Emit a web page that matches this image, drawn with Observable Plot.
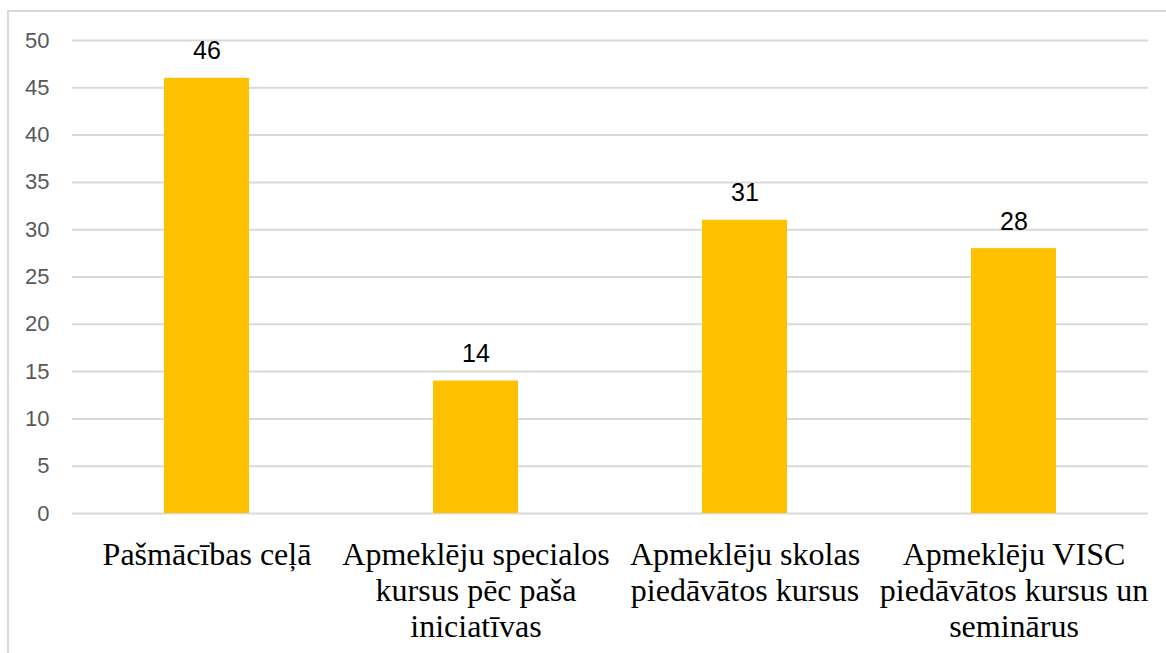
<!DOCTYPE html>
<html>
<head>
<meta charset="utf-8">
<script src="https://cdn.jsdelivr.net/npm/d3@7"></script>
<script src="https://cdn.jsdelivr.net/npm/@observablehq/plot@0.6"></script>
<style>
  html, body { margin: 0; padding: 0; background: #fff; overflow: hidden; width: 1166px; height: 653px; }
  #wrap { position: relative; width: 1166px; height: 653px; }
  #border { position: absolute; left: 7px; top: 10px; width: 2000px; height: 2000px; border: 2px solid #d9d9d9; box-sizing: border-box; }
  #chart { position: absolute; left: 0; top: 0; }
</style>
</head>
<body>
<div id="wrap"><div id="border"></div><div id="chart"></div></div>
<script>
const categories = [
  "Pašmācības ceļā",
  "Apmeklēju specialos\nkursus pēc paša\niniciatīvas",
  "Apmeklēju skolas\npiedāvātos kursus",
  "Apmeklēju VISC\npiedāvātos kursus un\nseminārus"
];
const values = [46, 14, 31, 28];
const yTicks = [0, 5, 10, 15, 20, 25, 30, 35, 40, 45, 50];

const data = categories.map((c, i) => ({category: c, value: values[i]}));

const chart = Plot.plot({
  width: 1166,
  height: 653,
  marginLeft: 72,
  marginRight: 18,
  marginTop: 40,
  marginBottom: 140,
  style: {background: "transparent", overflow: "visible"},
  x: {domain: categories, paddingInner: 0.684, paddingOuter: 0.342, axis: null},
  y: {domain: [0, 50], axis: null},
  marks: [
    Plot.ruleY(yTicks, {stroke: "#d9d9d9", strokeWidth: 2}),
    Plot.barY(data, {x: "category", y: "value", fill: "#FFC000"}),
    Plot.axisY(yTicks, {label: null, tickSize: 0, tickPadding: 23, fontSize: 22, fontFamily: "Liberation Sans, Arial, sans-serif", fill: "#595959", tickFormat: d => String(d)}),
    Plot.text(data, {x: "category", y: "value", text: d => String(d.value), lineAnchor: "bottom", dy: -19, fontSize: 25, fontFamily: "Liberation Sans, Arial, sans-serif", fill: "#000"}),
    Plot.text(categories, {x: d => d, y: () => 0, text: d => d, lineAnchor: "top", dy: 26, fontSize: 32, lineHeight: 1.125, fontFamily: "Liberation Serif, Times New Roman, serif", fill: "#000"})
  ]
});
document.getElementById("chart").appendChild(chart);
</script>
</body>
</html>
